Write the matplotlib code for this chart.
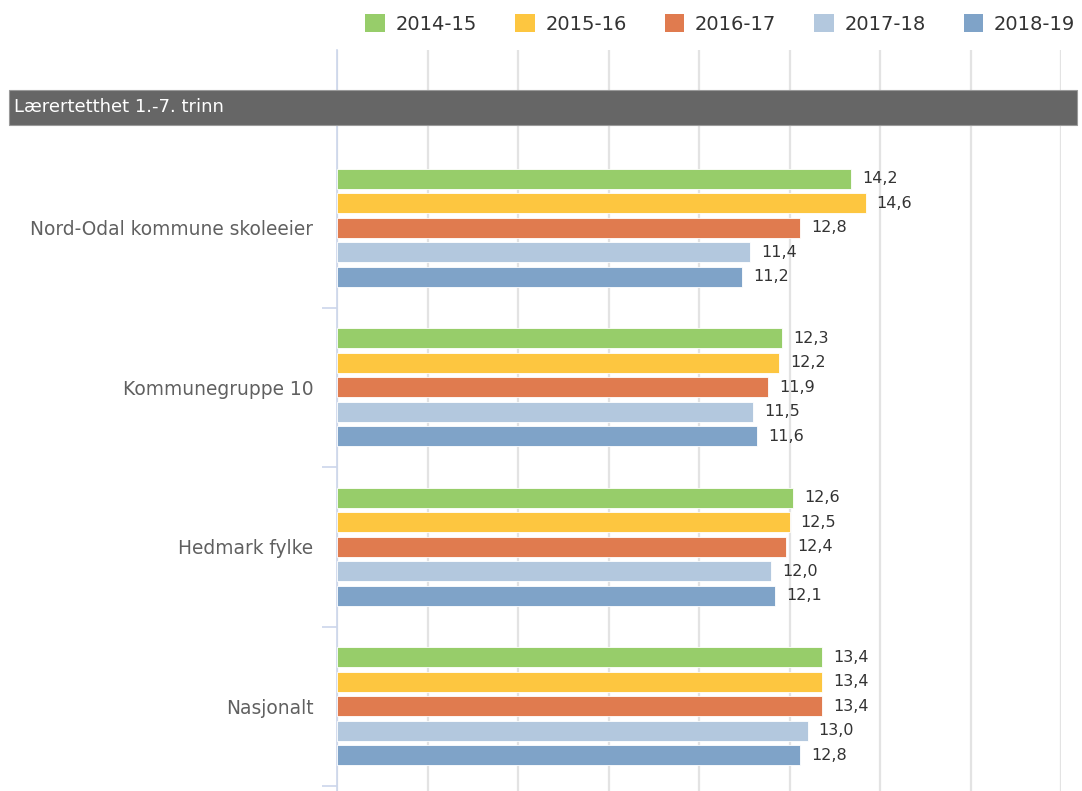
import numpy as np
import matplotlib
matplotlib.use("Agg")
import matplotlib.pyplot as plt
from matplotlib.patches import Rectangle, Patch

categories = ["Nord-Odal kommune skoleeier", "Kommunegruppe 10", "Hedmark fylke", "Nasjonalt"]
seasons = ["2014-15", "2015-16", "2016-17", "2017-18", "2018-19"]
v2014 = [14.2, 12.3, 12.6, 13.4]
v2015 = [14.6, 12.2, 12.5, 13.4]
v2016 = [12.8, 11.9, 12.4, 13.4]
v2017 = [11.4, 11.5, 12.0, 13.0]
v2018 = [11.2, 11.6, 12.1, 12.8]
colors = ["#97cd6a", "#fdc640", "#e07b4f", "#b3c8de", "#7fa3c8"]

series = [v2014, v2015, v2016, v2017, v2018]

W, H = 1082, 791
fig = plt.figure(figsize=(W / 100, H / 100), dpi=100)
ax = fig.add_axes([337 / W, 0, (1061 - 337) / W, 1 - 50 / H])

y = np.arange(len(categories))
step = 0.1536
bh = 0.1254
for i, vals in enumerate(series):
    pos = y + (i - 2) * step
    bars = ax.barh(pos, vals, height=bh, color=colors[i], edgecolor="white",
                   linewidth=0.6, zorder=3)
    for b, v in zip(bars, vals):
        ax.annotate(f"{v:.1f}".replace(".", ","), (b.get_width(), b.get_y() + b.get_height() / 2),
                    xytext=(8, 0), textcoords="offset points", va="center", ha="left",
                    fontsize=11.5, color="#333333")

ax.set_xlim(0, 20)
ax.set_ylim(3.531, -1.116)
ax.set_xticks(np.arange(0, 20.1, 2.5))
ax.xaxis.grid(True, color="#e3e3e3", linewidth=1.6, zorder=0)
ax.tick_params(axis="x", length=0, labelbottom=False)
ax.set_yticks(y)
ax.set_yticklabels(categories, fontsize=13.4, color="#606060")
ax.tick_params(axis="y", which="major", length=0, pad=17)
ax.set_yticks(np.arange(0.5, 4, 1), minor=True)
ax.tick_params(axis="y", which="minor", length=11, color="#ccd6eb", width=1.2)
for s in ["top", "right", "bottom"]:
    ax.spines[s].set_visible(False)
ax.spines["left"].set_color("#ccd6eb")
ax.spines["left"].set_linewidth(1.2)
ax.set_axisbelow(True)

# header band
band = Rectangle((9 / W, 1 - 125 / H), 1068 / W, 35 / H, transform=fig.transFigure,
                 facecolor="#666666", edgecolor="#9a9a9a", linewidth=0.8, zorder=10)
fig.patches.append(band)
fig.text(14 / W, 1 - 107.5 / H, "Lærertetthet 1.-7. trinn", color="white", fontsize=13,
         va="center", ha="left", zorder=11)

handles = [Patch(facecolor=c, edgecolor="none") for c in colors]
fig.legend(handles, seasons, loc="center right", bbox_to_anchor=(1085 / W, 1 - 24 / H),
           ncol=5, frameon=False, fontsize=14, handlelength=1.0, handleheight=1.0,
           handletextpad=0.56, columnspacing=1.95, borderpad=0, labelcolor="#333333")

fig.savefig("out.png", dpi=100)
